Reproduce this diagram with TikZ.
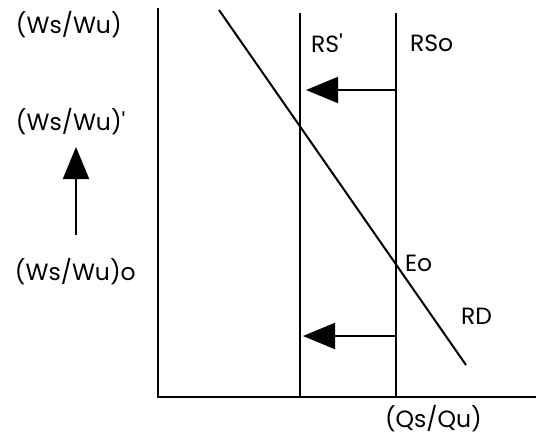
\documentclass[tikz,border=0pt]{standalone}
\usepackage{fontspec}
\setmainfont{Poppins}[Ligatures=TeXOff]
\usetikzlibrary{arrows.meta}
\tikzset{
  lbl/.style={anchor=west,inner sep=0pt,font=\fontsize{23.5}{26}\selectfont},
  movearrow/.style={line width=2pt,-{Triangle[length=32pt,width=26pt]}}
}
\begin{document}
\begin{tikzpicture}[x=1pt,y=-1pt,line width=2pt]
    \useasboundingbox (0,0) rectangle (536,439);
    \coordinate (O) at (158,397);
    \coordinate (Ytop) at (158,8);
    \coordinate (Xend) at (536,397);
    \coordinate (RS1top) at (300,13);
    \coordinate (RS1bot) at (300,397);
    \coordinate (RS0top) at (396,13);
    \coordinate (RS0bot) at (396,397);
    \coordinate (RDtop) at (219,10);
    \coordinate (RDbot) at (466,365);
    \coordinate (A1s) at (396,90);
    \coordinate (A1e) at (306,90);
    \coordinate (A2s) at (396,336);
    \coordinate (A2e) at (303,336);
    \coordinate (Us) at (76,235);
    \coordinate (Ue) at (76,147);
    \node[lbl] (W) at (15,25) {(Ws/Wu)};
    \node[lbl] (W1) at (15,122) {(Ws/Wu)'};
    \node[lbl] (W0) at (14,272) {(Ws/Wu)o};
    \node[lbl] (RS1) at (310,43) {RS'};
    \node[lbl] (RS0) at (409,43) {RSo};
    \node[lbl] (E0) at (404,263) {Eo};
    \node[lbl] (RD) at (460,316) {RD};
    \node[lbl] (Q) at (384,419) {(Qs/Qu)};
    \draw (Ytop) -- (O) -- (Xend);
    \draw (RS1top) -- (RS1bot);
    \draw (RS0top) -- (RS0bot);
    \draw (RDtop) -- (RDbot);
    \draw[movearrow] (A1s) -- (A1e);
    \draw[movearrow] (A2s) -- (A2e);
    \draw[movearrow] (Us) -- (Ue);
\end{tikzpicture}
\end{document}
